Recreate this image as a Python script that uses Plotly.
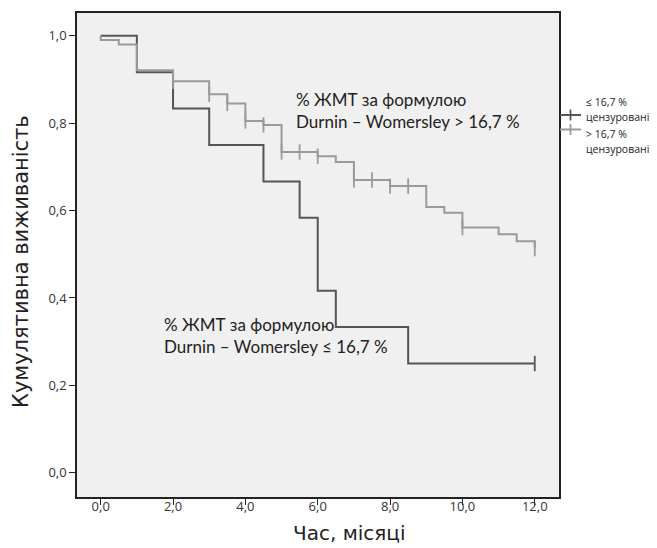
import plotly.graph_objects as go

# Group "≤ 16,7 %" (darker curve)
low_times = [0.0, 1.0, 2.0, 3.0, 4.5, 5.5, 6.0, 6.5, 8.5, 12.0]
low_surv = [1.0, 0.9167, 0.8333, 0.75, 0.6667, 0.5833, 0.4167, 0.3333, 0.25, 0.25]
low_cens_t = [12.0]
low_cens_s = [0.25]

# Group "> 16,7 %" (lighter curve)
high_times = [0.0, 0.0, 0.5, 1.0, 2.0, 3.0, 3.5, 4.0, 4.5, 5.0, 6.0, 6.5, 7.0, 8.0,
              9.0, 9.5, 10.0, 11.0, 11.5, 12.0]
high_surv = [1.0, 0.990, 0.980, 0.921, 0.896, 0.866, 0.845, 0.805, 0.796, 0.734,
             0.7245, 0.711, 0.670, 0.656, 0.608, 0.595, 0.561, 0.546, 0.530, 0.513]
high_cens_t = [2.0, 3.0, 3.5, 4.0, 4.5, 5.0, 5.5, 6.0, 7.0, 7.5, 8.0, 8.5, 10.0, 12.0]
high_cens_s = [0.896, 0.866, 0.845, 0.805, 0.796, 0.734, 0.734, 0.7245, 0.670, 0.670,
               0.656, 0.656, 0.561, 0.513]

legend_groups = ["≤ 16,7 %", "> 16,7 %"]
legend_sub = "цензуровані"
x_ticks = [0, 2, 4, 6, 8, 10, 12]
y_ticks = [0.0, 0.2, 0.4, 0.6, 0.8, 1.0]

dark = "#555555"
light = "#9a9a9a"

fig = go.Figure()

for t, s, ct, cs, col in [
    (low_times, low_surv, low_cens_t, low_cens_s, dark),
    (high_times, high_surv, high_cens_t, high_cens_s, light),
]:
    fig.add_trace(go.Scatter(x=t, y=s, mode="lines", line=dict(color=col, width=2, shape="hv"),
                             showlegend=False, hoverinfo="skip"))
    fig.add_trace(go.Scatter(x=ct, y=cs, mode="markers",
                             marker=dict(symbol="line-ns", size=11, line=dict(color=col, width=1.8)),
                             showlegend=False))

tick_font = dict(family="Open Sans", size=13, color="#333333")

# page has an 8px body margin: the figure is drawn starting at (8, 8)
OFF = 8
PAGE_W, PAGE_H = 657, 548
# plot area in page pixels
L, R, T, B = 77, 559, 13, 497
W, H = R - L, B - T


def px(xp):
    return (xp - L) / W


def py(yp):
    return (B - yp) / H


fig.update_layout(
    width=PAGE_W - OFF, height=PAGE_H - OFF,
    margin=dict(l=L - OFF, r=PAGE_W - R, t=T - OFF, b=PAGE_H - B),
    paper_bgcolor="white",
    plot_bgcolor="#f0f0f0",
    separators=", ",
    showlegend=False,
    xaxis=dict(range=[-0.655, 12.67], tickvals=x_ticks, tickformat=".1f", automargin=False,
               showgrid=False, zeroline=False, showline=True, linecolor="#222222",
               linewidth=1.5, mirror=True, ticks="outside", ticklen=6, tickcolor="#222222",
               tickfont=tick_font, ticklabelstandoff=-9),
    yaxis=dict(range=[-0.0554, 1.052], tickvals=y_ticks, tickformat=".1f", automargin=False,
               showgrid=False, zeroline=False, showline=True, linecolor="#222222",
               linewidth=1.5, mirror=True, ticks="outside", ticklen=6, tickcolor="#222222",
               tickfont=tick_font, ticklabelstandoff=0),
)

# axis titles
fig.add_annotation(text="Час, місяці", xref="paper", yref="paper", x=px(349), y=py(533),
                   xanchor="center", yanchor="middle", showarrow=False,
                   font=dict(family="DejaVu Sans", size=20, color="#222222"))
fig.add_annotation(text="Кумулятивна виживаність", xref="paper", yref="paper",
                   x=px(21), y=py(262), xanchor="center", yanchor="middle", textangle=-90,
                   showarrow=False, font=dict(family="DejaVu Sans", size=21, color="#222222"))

# curve labels
ann_font = dict(family="Lato", size=17, color="#222222")
fig.add_annotation(text="% ЖМТ за формулою<br>Durnin – Womersley > 16,7 %", x=5.35, y=0.83,
                   xanchor="left", yanchor="middle", align="left", showarrow=False, font=ann_font)
fig.add_annotation(text="% ЖМТ за формулою<br>Durnin – Womersley ≤ 16,7 %", x=1.7, y=0.315,
                   xanchor="left", yanchor="middle", align="left", showarrow=False, font=ann_font)

# manual legend (outside plot area, right)
leg_font = dict(family="Open Sans", size=10.5, color="#222222")
for i, (col, grp) in enumerate(zip([dark, light], legend_groups)):
    sy = 115 + i * 14.5
    fig.add_shape(type="line", xref="paper", yref="paper", x0=px(560), x1=px(581),
                  y0=py(sy), y1=py(sy), line=dict(color=col, width=2))
    fig.add_shape(type="line", xref="paper", yref="paper", x0=px(570.5), x1=px(570.5),
                  y0=py(sy - 5.5), y1=py(sy + 5.5), line=dict(color=col, width=1.8))
    fig.add_annotation(text=grp, xref="paper", yref="paper", x=px(584), y=py(102 + i * 31.5),
                       xanchor="left", yanchor="middle", showarrow=False, font=leg_font)
    fig.add_annotation(text=legend_sub, xref="paper", yref="paper", x=px(584),
                       y=py(117 + i * 31.5), xanchor="left", yanchor="middle",
                       showarrow=False, font=leg_font)

fig.write_html("out.html")
